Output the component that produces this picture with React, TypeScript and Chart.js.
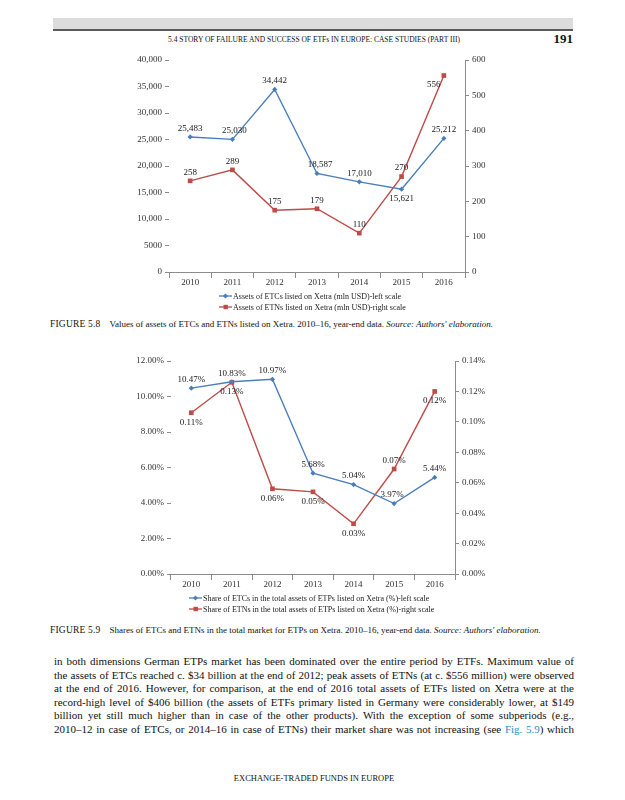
import React, { useEffect, useRef } from 'react';
import { Chart, registerables } from 'chart.js';
Chart.register(...registerables);

// ---------- DATA ----------
const years = ['2010', '2011', '2012', '2013', '2014', '2015', '2016'];
const etcAssets = [25483, 25030, 34442, 18587, 17010, 15621, 25212];
const etnAssets = [258, 289, 175, 179, 110, 270, 556];
const leftTicks1 = ['0', '5000', '10,000', '15,000', '20,000', '25,000', '30,000', '35,000', '40,000'];
const rightTicks1 = ['0', '100', '200', '300', '400', '500', '600'];

const etcShare = [10.47, 10.83, 10.97, 5.68, 5.04, 3.97, 5.44];
const etnShare = [0.106, 0.126, 0.056, 0.054, 0.033, 0.069, 0.12];
const leftTicks2 = ['0.00%', '2.00%', '4.00%', '6.00%', '8.00%', '10.00%', '12.00%'];
const rightTicks2 = ['0.00%', '0.02%', '0.04%', '0.06%', '0.08%', '0.10%', '0.12%', '0.14%'];

const legend1 = [
  'Assets of ETCs listed on Xetra (mln USD)-left scale',
  'Assets of ETNs listed on Xetra (mln USD)-right scale',
];
const legend2 = [
  "Share of ETCs in the total assets of ETPs listed on Xetra (%)-left scale",
  "Share of ETNs in the total assets of ETPs listed on Xetra (%)-right scale",
];

const bodyLines = [
  'in both dimensions German ETPs market has been dominated over the entire period by ETFs. Maximum value of',
  'the assets of ETCs reached c. $34 billion at the end of 2012; peak assets of ETNs (at c. $556 million) were observed',
  'at the end of 2016. However, for comparison, at the end of 2016 total assets of ETFs listed on Xetra were at the',
  'record-high level of $406 billion (the assets of ETFs primary listed in Germany were considerably lower, at $149',
  'billion yet still much higher than in case of the other products). With the exception of some subperiods (e.g.,',
];
const bodyLast = ['2010\u201312 in case of ETCs, or 2014\u201316 in case of ETNs) their market share was not increasing (see ', 'Fig. 5.9', ') which'];

// ---------- STYLE ----------
const BLUE = '#4A7EBB';
const RED = '#BE4B48';
const SERIF = '"Liberation Serif", "DejaVu Serif", serif';
const TICK_FONT = { family: SERIF, size: 9 };
const TICK_COLOR = '#333';
const AXIS_COLOR = '#8c8c8c';

const pointLabels = {
  id: 'pointLabels',
  afterDatasetsDraw(chart: any) {
    const ctx = chart.ctx;
    chart.data.datasets.forEach((ds: any, i: number) => {
      const meta = chart.getDatasetMeta(i);
      meta.data.forEach((pt: any, j: number) => {
        const below = ds.labelPos[j] === 'b';
        const dx = ds.labelDx ? ds.labelDx[j] : 0;
        ctx.save();
        ctx.font = `9px ${SERIF}`;
        ctx.fillStyle = '#1a1a1a';
        ctx.textAlign = 'center';
        ctx.textBaseline = below ? 'top' : 'bottom';
        ctx.fillText(ds.labelFmt(ds.data[j]), pt.x + dx, below ? pt.y + 5 : pt.y - 4);
        ctx.restore();
      });
    });
  },
};

const lineLegend = {
  id: 'lineLegend',
  afterDraw(chart: any, _args: any, opts: any) {
    const ctx = chart.ctx;
    const ca = chart.chartArea;
    opts.items.forEach((it: any, k: number) => {
      const y = ca.bottom + opts.y0 + k * opts.dy;
      const x = ca.left + opts.x;
      ctx.save();
      ctx.strokeStyle = it.color;
      ctx.lineWidth = 1.3;
      ctx.beginPath();
      ctx.moveTo(x, y);
      ctx.lineTo(x + 13, y);
      ctx.stroke();
      ctx.fillStyle = it.color;
      if (it.marker === 'diamond') {
        ctx.beginPath();
        ctx.moveTo(x + 6.5, y - 2.5);
        ctx.lineTo(x + 9, y);
        ctx.lineTo(x + 6.5, y + 2.5);
        ctx.lineTo(x + 4, y);
        ctx.closePath();
        ctx.fill();
      } else {
        ctx.fillRect(x + 4.5, y - 2.2, 4.4, 4.4);
      }
      ctx.fillStyle = '#1a1a1a';
      ctx.font = `8px ${SERIF}`;
      ctx.textBaseline = 'middle';
      ctx.textAlign = 'left';
      ctx.fillText(it.text, x + 14, y + 0.5);
      ctx.restore();
    });
  },
};

function makeConfig(p: any): any {
  return {
    type: 'line',
    data: {
      labels: years,
      datasets: [
        {
          data: p.s1,
          borderColor: BLUE,
          backgroundColor: BLUE,
          borderWidth: 1.4,
          pointStyle: 'rectRot',
          pointRadius: 2.6,
          pointBorderWidth: 0,
          yAxisID: 'y',
          labelPos: p.pos1,
          labelDx: p.dx1,
          labelFmt: p.fmt1,
        },
        {
          data: p.s2,
          borderColor: RED,
          backgroundColor: RED,
          borderWidth: 1.4,
          pointStyle: 'rect',
          pointRadius: 3.3,
          pointBorderWidth: 0,
          yAxisID: 'y1',
          labelPos: p.pos2,
          labelDx: p.dx2,
          labelFmt: p.fmt2,
        },
      ],
    },
    options: {
      responsive: false,
      animation: false,
      layout: { padding: { top: p.top, left: 0, right: 0, bottom: 0 } },
      plugins: {
        legend: { display: false },
        tooltip: { enabled: false },
        lineLegend: { items: p.legendItems, x: p.legendX, y0: 24, dy: 11 },
      },
      scales: {
        x: {
          offset: true,
          grid: { offset: true, drawOnChartArea: false, drawTicks: true, tickLength: 6, color: AXIS_COLOR },
          border: { display: true, color: AXIS_COLOR },
          ticks: { font: TICK_FONT, color: TICK_COLOR, padding: -1, maxRotation: 0 },
          afterFit: (s: any) => { s.height = p.xh; },
        },
        y: {
          position: 'left',
          min: p.lmin, max: p.lmax,
          grid: { drawOnChartArea: false, drawTicks: true, tickLength: 4, color: AXIS_COLOR },
          border: { display: false },
          ticks: {
            stepSize: p.lstep, font: TICK_FONT, color: TICK_COLOR, padding: 3,
            callback: (_v: any, i: number) => p.lticks[i],
          },
          afterFit: (s: any) => { s.width = p.lw; },
        },
        y1: {
          position: 'right',
          min: p.rmin, max: p.rmax,
          grid: { drawOnChartArea: false, drawTicks: true, tickLength: 4, color: AXIS_COLOR },
          border: { display: true, color: AXIS_COLOR },
          ticks: {
            stepSize: p.rstep, font: TICK_FONT, color: TICK_COLOR, padding: 3,
            callback: (_v: any, i: number) => p.rticks[i],
          },
          afterFit: (s: any) => { s.width = p.rw; },
        },
      },
    },
    plugins: [pointLabels, lineLegend],
  };
}

function ChartBox({ left, top, width, height, params }: any) {
  const ref = useRef<HTMLCanvasElement>(null);
  useEffect(() => {
    const c = new Chart(ref.current as HTMLCanvasElement, makeConfig(params));
    return () => c.destroy();
  }, []);
  return (
    <div style={{ position: 'absolute', left, top, width, height }}>
      <canvas ref={ref} width={width} height={height} style={{ width, height, display: 'block' }} />
    </div>
  );
}

const chart1Params = {
  s1: etcAssets, s2: etnAssets,
  pos1: ['a', 'a', 'a', 'a', 'a', 'b', 'a'],
  pos2: ['a', 'a', 'a', 'a', 'a', 'a', 'b'],
  dx1: [0, 2, 0, 3, 0, 0, 0],
  dx2: [0, 0, 0, 0, 0, 0, -10],
  fmt1: (v: number) => v.toLocaleString('en-US'),
  fmt2: (v: number) => String(v),
  lmin: 0, lmax: 40000, lstep: 5000, lticks: leftTicks1,
  rmin: 0, rmax: 600, rstep: 100, rticks: rightTicks1,
  lw: 69, rw: 55, xh: 43, top: 10,
  legendX: 50,
  legendItems: [
    { text: legend1[0], color: BLUE, marker: 'diamond' },
    { text: legend1[1], color: RED, marker: 'square' },
  ],
};

const chart2Params = {
  s1: etcShare, s2: etnShare,
  pos1: ['a', 'a', 'a', 'a', 'a', 'a', 'a'],
  pos2: ['b', 'b', 'b', 'b', 'b', 'a', 'b'],
  dx1: [0, 0, 0, 0, 0, -2, 0],
  dx2: [0, 0, 0, 0, 0, 0, 0],
  fmt1: (v: number) => v.toFixed(2) + '%',
  fmt2: (v: number) => v.toFixed(2) + '%',
  lmin: 0, lmax: 12, lstep: 2, lticks: leftTicks2,
  rmin: 0, rmax: 0.14, rstep: 0.02, rticks: rightTicks2,
  lw: 71, rw: 65, xh: 46, top: 11,
  legendX: 18,
  legendItems: [
    { text: legend2[0], color: BLUE, marker: 'diamond' },
    { text: legend2[1], color: RED, marker: 'square' },
  ],
};

const abs = (o: any): React.CSSProperties => ({ position: 'absolute', whiteSpace: 'nowrap', ...o });

export default function App() {
  return (
    <div style={{ position: 'absolute', left: 0, top: 0, width: 625, height: 800, background: '#fff', fontFamily: SERIF, color: '#111', overflow: 'hidden' }}>
      <div style={abs({ left: 53, top: 18, width: 520, height: 11, background: '#dcdcdc' })} />
      <div style={abs({ left: 53, top: 29, width: 520, height: 2, background: '#5a5a5a' })} />
      <div style={abs({ left: 0, width: 628, top: 35, textAlign: 'center', fontSize: 7.5, lineHeight: '10px' })}>
        5.4 STORY OF FAILURE AND SUCCESS OF ETFs IN EUROPE: CASE STUDIES (PART III)
      </div>
      <div style={abs({ right: 52, top: 32, fontSize: 13, fontWeight: 'bold', lineHeight: '14px' })}>191</div>

      <ChartBox left={100} top={50} width={420} height={265} params={chart1Params} />

      <div style={abs({ left: 50, top: 318, fontSize: 9.5, lineHeight: '12px' })}>
        <span style={{ letterSpacing: 0.2 }}>FIGURE 5.8</span>
        <span style={{ display: 'inline-block', width: 9 }} />
        <span style={{ fontSize: 9 }}>Values of assets of ETCs and ETNs listed on Xetra. 2010–16, year-end data. <i>Source: Authors' elaboration.</i></span>
      </div>

      <ChartBox left={100} top={350} width={420} height={270} params={chart2Params} />

      <div style={abs({ left: 50, top: 624, fontSize: 9.5, lineHeight: '12px' })}>
        <span style={{ letterSpacing: 0.2 }}>FIGURE 5.9</span>
        <span style={{ display: 'inline-block', width: 9 }} />
        <span style={{ fontSize: 9 }}>Shares of ETCs and ETNs in the total market for ETPs on Xetra. 2010–16, year-end data. <i>Source: Authors' elaboration.</i></span>
      </div>

      {bodyLines.map((t, i) => (
        <div key={i} style={{ position: 'absolute', left: 54, width: 520, top: 654 + i * 13.5, fontSize: 11, lineHeight: '14px', textAlign: 'justify', textAlignLast: 'justify' as any, whiteSpace: 'normal' }}>
          {t}
        </div>
      ))}
      <div style={{ position: 'absolute', left: 54, width: 520, top: 654 + 5 * 13.5, fontSize: 11, lineHeight: '14px', textAlign: 'justify', textAlignLast: 'justify' as any }}>
        {bodyLast[0]}<span style={{ color: '#2a8fc8' }}>{bodyLast[1]}</span>{bodyLast[2]}
      </div>

      <div style={abs({ left: 0, width: 628, top: 773, textAlign: 'center', fontSize: 8.5, lineHeight: '10px' })}>
        EXCHANGE-TRADED FUNDS IN EUROPE
      </div>
    </div>
  );
}
